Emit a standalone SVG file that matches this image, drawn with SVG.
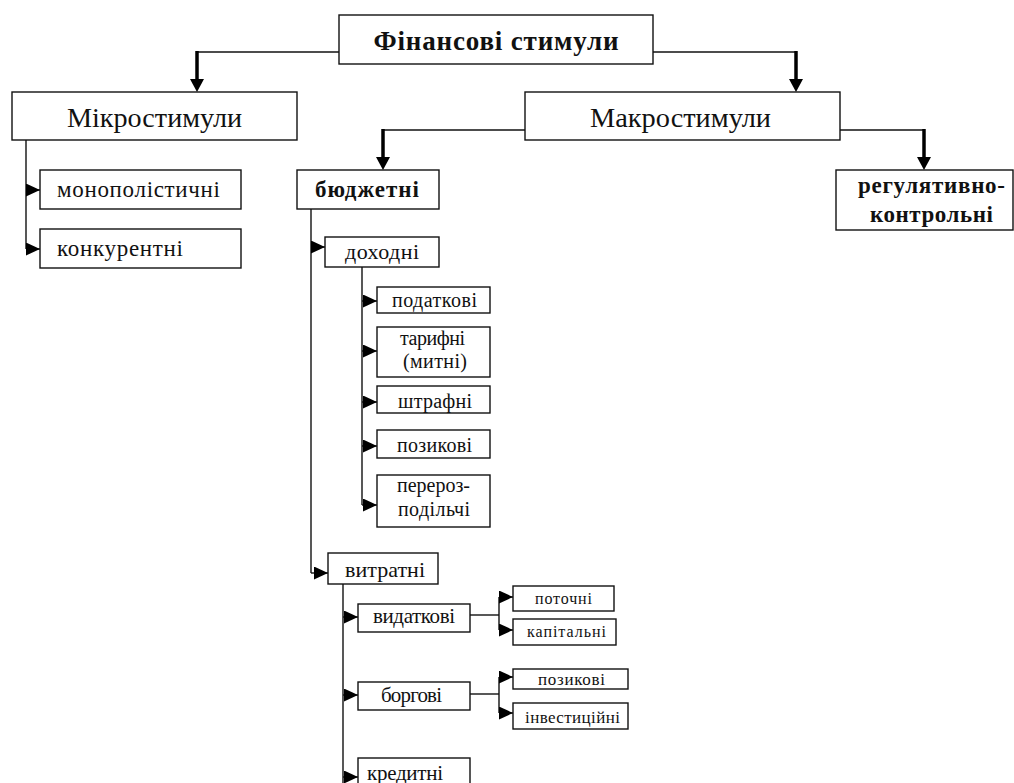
<svg xmlns="http://www.w3.org/2000/svg" width="1014" height="783" viewBox="0 0 1014 783">
<style>
.box{fill:#fff;stroke:#111;stroke-width:1.4}
.ln{fill:none;stroke:#111;stroke-width:1.4}
.thick{fill:none;stroke:#000;stroke-width:3.5}
.br{stroke:#111;stroke-width:1.4;marker-end:url(#ah)}
text{font-family:"Liberation Serif","Times New Roman",serif;fill:#111;text-anchor:middle}
.b{font-weight:bold}
</style>
<defs>
<marker id="ah" markerUnits="userSpaceOnUse" markerWidth="15" markerHeight="14" refX="14" refY="6.5" orient="auto">
<path d="M0,0 L14,6.5 L0,13 z" fill="#000"/>
</marker>
</defs>
<rect width="1014" height="783" fill="#fff"/>
<g id="connectors">
<polyline class="ln" points="339,52 197,52"/>
<line class="thick" x1="197" y1="51" x2="197" y2="80"/>
<polygon points="190,79 204,79 197,92" fill="#000"/>
<polyline class="ln" points="653,52 796,52"/>
<line class="thick" x1="796" y1="51" x2="796" y2="80"/>
<polygon points="789,79 803,79 796,92" fill="#000"/>
<polyline class="ln" points="525,130 383,130"/>
<line class="thick" x1="383" y1="129" x2="383" y2="158"/>
<polygon points="376,157 390,157 383,170" fill="#000"/>
<polyline class="ln" points="840,130 924,130"/>
<line class="thick" x1="924" y1="129" x2="924" y2="158"/>
<polygon points="917,157 931,157 924,170" fill="#000"/>
<line class="ln" x1="26" y1="140" x2="26" y2="249"/>
<line class="br" x1="26" y1="190" x2="40" y2="190"/>
<line class="br" x1="26" y1="249" x2="40" y2="249"/>
<line class="ln" x1="311" y1="209" x2="311" y2="573"/>
<line class="br" x1="311" y1="247" x2="325" y2="247"/>
<line class="br" x1="311" y1="573" x2="328" y2="573"/>
<line class="ln" x1="362" y1="267" x2="362" y2="505"/>
<line class="br" x1="362" y1="301" x2="377" y2="301"/>
<line class="br" x1="362" y1="351" x2="377" y2="351"/>
<line class="br" x1="362" y1="402" x2="377" y2="402"/>
<line class="br" x1="362" y1="446" x2="377" y2="446"/>
<line class="br" x1="362" y1="505" x2="377" y2="505"/>
<line class="ln" x1="343" y1="584" x2="343" y2="783"/>
<line class="br" x1="343" y1="617" x2="358" y2="617"/>
<line class="br" x1="343" y1="695" x2="358" y2="695"/>
<line class="br" x1="343" y1="777" x2="358" y2="777"/>
<line class="ln" x1="470" y1="615" x2="499" y2="615"/>
<line class="ln" x1="499" y1="597" x2="499" y2="630"/>
<line class="br" x1="499" y1="597" x2="513" y2="597"/>
<line class="br" x1="499" y1="630" x2="513" y2="630"/>
<line class="ln" x1="470" y1="694" x2="499" y2="694"/>
<line class="ln" x1="499" y1="677" x2="499" y2="713"/>
<line class="br" x1="499" y1="677" x2="513" y2="677"/>
<line class="br" x1="499" y1="713" x2="513" y2="713"/>
</g>
<g id="n-fin"><rect class="box" x="339" y="15" width="314" height="49"/><text class="b" x="496" y="50" font-size="27" textLength="245" lengthAdjust="spacing">Фінансові стимули</text></g>
<g id="n-micro"><rect class="box" x="12" y="92" width="285" height="48"/><text x="154.5" y="127" font-size="27" textLength="175" lengthAdjust="spacingAndGlyphs">Мікростимули</text></g>
<g id="n-macro"><rect class="box" x="525" y="92" width="315" height="48"/><text x="680.5" y="127" font-size="27" textLength="181" lengthAdjust="spacingAndGlyphs">Макростимули</text></g>
<g id="n-mono"><rect class="box" x="40" y="170" width="201" height="39"/><text x="138.5" y="197" font-size="23" textLength="163" lengthAdjust="spacing">монополістичні</text></g>
<g id="n-konk"><rect class="box" x="40" y="229" width="201" height="39"/><text x="120" y="256" font-size="23" textLength="126" lengthAdjust="spacing">конкурентні</text></g>
<g id="n-budg"><rect class="box" x="297" y="170" width="142" height="39"/><text class="b" x="367" y="197" font-size="23" textLength="104" lengthAdjust="spacing">бюджетні</text></g>
<g id="n-reg"><rect class="box" x="836" y="170" width="177" height="60"/><text class="b" x="931.5" y="193" font-size="23" textLength="147" lengthAdjust="spacing">регулятивно-</text><text class="b" x="931.5" y="222" font-size="23" textLength="123" lengthAdjust="spacing">контрольні</text></g>
<g id="n-dokh"><rect class="box" x="325" y="237" width="114" height="30"/><text x="382" y="259" font-size="22" textLength="74" lengthAdjust="spacing">доходні</text></g>
<g id="n-podat"><rect class="box" x="377" y="287" width="113" height="26"/><text x="434.5" y="307" font-size="20" textLength="85" lengthAdjust="spacing">податкові</text></g>
<g id="n-tarif"><rect class="box" x="377" y="327" width="113" height="50"/><text x="432.5" y="345" font-size="20" textLength="65" lengthAdjust="spacing">тарифні</text><text x="435" y="368" font-size="20" textLength="64" lengthAdjust="spacing">(митні)</text></g>
<g id="n-shtraf"><rect class="box" x="377" y="386" width="113" height="27"/><text x="435" y="408" font-size="20" textLength="74" lengthAdjust="spacing">штрафні</text></g>
<g id="n-pozyk"><rect class="box" x="377" y="430" width="113" height="28"/><text x="434.5" y="452" font-size="20" textLength="75" lengthAdjust="spacing">позикові</text></g>
<g id="n-pererozp"><rect class="box" x="377" y="475" width="113" height="52"/><text x="433.5" y="492" font-size="20" textLength="73" lengthAdjust="spacing">перероз-</text><text x="434" y="516" font-size="20" textLength="72" lengthAdjust="spacing">подільчі</text></g>
<g id="n-vytr"><rect class="box" x="328" y="553" width="110" height="31"/><text x="385" y="577" font-size="22" textLength="80" lengthAdjust="spacing">витратні</text></g>
<g id="n-vydat"><rect class="box" x="358" y="604" width="112" height="28"/><text x="414" y="623" font-size="21" textLength="82" lengthAdjust="spacing">видаткові</text></g>
<g id="n-potoch"><rect class="box" x="513" y="586" width="101" height="25"/><text x="563.5" y="604" font-size="16" textLength="57" lengthAdjust="spacing">поточні</text></g>
<g id="n-kapit"><rect class="box" x="513" y="619" width="103" height="26"/><text x="566.5" y="637" font-size="16" textLength="79" lengthAdjust="spacing">капітальні</text></g>
<g id="n-borg"><rect class="box" x="358" y="682" width="112" height="28"/><text x="411.5" y="702" font-size="21" textLength="61" lengthAdjust="spacing">боргові</text></g>
<g id="n-pozyk2"><rect class="box" x="513" y="669" width="115" height="20"/><text x="571.5" y="685" font-size="17" textLength="67" lengthAdjust="spacing">позикові</text></g>
<g id="n-invest"><rect class="box" x="513" y="703" width="115" height="26"/><text x="572.5" y="723" font-size="17" textLength="95" lengthAdjust="spacing">інвестиційні</text></g>
<g id="n-kred"><rect class="box" x="358" y="758" width="112" height="30"/><text x="405" y="780" font-size="21" textLength="76" lengthAdjust="spacing">кредитні</text></g>
</svg>
